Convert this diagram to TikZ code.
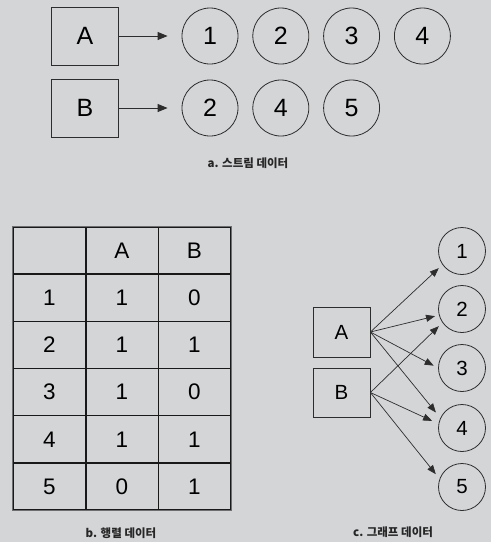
\documentclass[tikz,border=0pt]{standalone}
\usepackage{fontspec}
\setmainfont{Liberation Sans}
\newfontfamily\kr{Noto Sans CJK KR}
\usetikzlibrary{arrows.meta,positioning,calc}
\definecolor{bgcolor}{RGB}{212,213,215}
\definecolor{linecolor}{RGB}{45,45,45}
\definecolor{edgecolor}{RGB}{110,110,112}

\begin{document}
\begin{tikzpicture}[
    x=1pt, y=-1pt,
    line width=0.8pt,
    item/.style={rectangle, draw=linecolor, minimum width=67pt, minimum height=58pt, font=\fontsize{25}{25}\selectfont},
    elem/.style={circle, draw=linecolor, minimum size=56pt, inner sep=0pt, font=\fontsize{25}{25}\selectfont},
    gitem/.style={rectangle, draw=linecolor, minimum width=57pt, minimum height=49pt, font=\fontsize{20.5}{20.5}\selectfont},
    gelem/.style={circle, draw=linecolor, minimum size=47pt, inner sep=0pt, font=\fontsize{20.5}{20.5}\selectfont},
    cell/.style={rectangle, draw=black!90, line width=1.3pt, minimum width=72.7pt, minimum height=47.2pt, font=\fontsize{22.5}{22.5}\selectfont},
    caption/.style={font=\kr\bfseries\fontsize{11.5}{12}\selectfont, text=black!85},
    arrow/.style={-{Triangle[length=10pt,width=8pt]}, linecolor, line width=0.9pt},
    garrow/.style={-{Triangle[length=9pt,width=7pt]}, linecolor, line width=0.7pt}
]
\fill[bgcolor] (0,0) rectangle (491,542);
\useasboundingbox (0,0) rectangle (491,542);

% a. stream data
\node[item] (sA) at (85,36) {A};
\node[item] (sB) at (85,108) {B};

\node[elem] (a1) at (210,36) {1};
\node[elem, right=14pt of a1] (a2) {2};
\node[elem, right=14pt of a2] (a3) {3};
\node[elem, right=14pt of a3] (a4) {4};

\node[elem] (b2) at (210,108) {2};
\node[elem, right=14pt of b2] (b4) {4};
\node[elem, right=14pt of b4] (b5) {5};

\draw[arrow, shorten >=14pt] (sA.east) -- (a1);
\draw[arrow, shorten >=14pt] (sB.east) -- (b2);

\node[caption] (capA) at (248,163) {a. 스트림 데이터};

% b. matrix data
\foreach \r/\ca/\cb/\cc in {0/{}/A/B, 1/1/1/0, 2/2/1/1, 3/3/1/0, 4/4/1/1, 5/5/0/1} {
    \node[cell] (t-\r-0) at (49.5,250.5+47.2*\r) {\ca};
    \node[cell] (t-\r-1) at (122,250.5+47.2*\r) {\cb};
    \node[cell] (t-\r-2) at (194.5,250.5+47.2*\r) {\cc};
}
\draw[edgecolor, line width=1pt] (t-0-0.north west) rectangle (t-5-2.south east);

\node[caption] (capB) at (121,533) {b. 행렬 데이터};

% c. graph data
\node[gitem, minimum height=50pt] (gA) at (341.5,332) {A};
\node[gitem] (gB) at (341.5,392.5) {B};

\node[gelem] (g1) at (462,251) {1};
\node[gelem] (g2) at (462,309) {2};
\node[gelem] (g3) at (462,368) {3};
\node[gelem] (g4) at (462,428) {4};
\node[gelem] (g5) at (462,487) {5};

\draw[garrow, shorten >=5pt] (gA.east) -- (g1.215);
\draw[garrow, shorten >=4pt] (gA.east) -- (g2.195);
\draw[garrow, shorten >=5pt] (gA.east) -- (g3.west);
\draw[garrow, shorten >=7pt] (gA.east) -- (g4.155);
\draw[garrow, shorten >=5pt] (gB.east) -- (g2.215);
\draw[garrow, shorten >=7pt] (gB.east) -- (g4.170);
\draw[garrow, shorten >=6pt] (gB.east) -- (g5.160);

\node[caption] (capC) at (393,532) {c. 그래프 데이터};

\end{tikzpicture}
\end{document}
